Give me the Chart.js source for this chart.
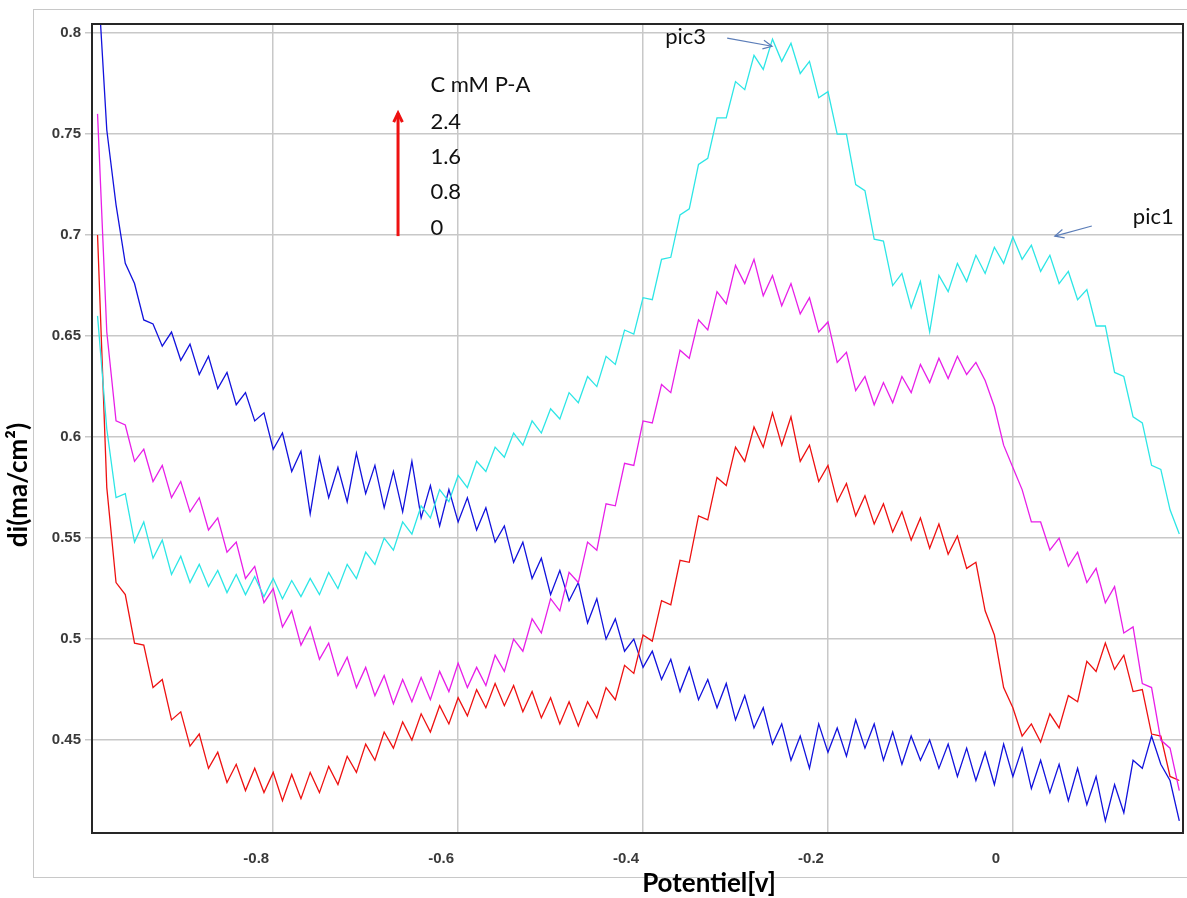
<!DOCTYPE html>
<html>
<head>
<meta charset="utf-8">
<script src="https://cdn.jsdelivr.net/npm/chart.js@4.4.1/dist/chart.umd.min.js"></script>
<style>
  body { margin: 0; background: #fff; }
  canvas { display: block; }
</style>
</head>
<body>
<canvas id="chart" width="1187" height="898"></canvas>
<script>
// potential (V)
const potential = [
  -0.99, -0.98, -0.97, -0.96, -0.95, -0.94, -0.93, -0.92, -0.91, -0.90,
  -0.89, -0.88, -0.87, -0.86, -0.85, -0.84, -0.83, -0.82, -0.81, -0.80,
  -0.79, -0.78, -0.77, -0.76, -0.75, -0.74, -0.73, -0.72, -0.71, -0.70,
  -0.69, -0.68, -0.67, -0.66, -0.65, -0.64, -0.63, -0.62, -0.61, -0.60,
  -0.59, -0.58, -0.57, -0.56, -0.55, -0.54, -0.53, -0.52, -0.51, -0.50,
  -0.49, -0.48, -0.47, -0.46, -0.45, -0.44, -0.43, -0.42, -0.41, -0.40,
  -0.39, -0.38, -0.37, -0.36, -0.35, -0.34, -0.33, -0.32, -0.31, -0.30,
  -0.29, -0.28, -0.27, -0.26, -0.25, -0.24, -0.23, -0.22, -0.21, -0.20,
  -0.19, -0.18, -0.17, -0.16, -0.15, -0.14, -0.13, -0.12, -0.11, -0.10,
  -0.09, -0.08, -0.07, -0.06, -0.05, -0.04, -0.03, -0.02, -0.01, 0.00,
  0.01, 0.02, 0.03, 0.04, 0.05, 0.06, 0.07, 0.08, 0.09, 0.10,
  0.11, 0.12, 0.13, 0.14, 0.15, 0.16, 0.17, 0.18
];

// di (ma/cm2), one array per concentration
const di_0 = [
  0.830, 0.752, 0.715, 0.686, 0.676, 0.658, 0.656, 0.645, 0.652, 0.638,
  0.646, 0.631, 0.640, 0.624, 0.632, 0.616, 0.622, 0.608, 0.612, 0.594,
  0.602, 0.583, 0.593, 0.562, 0.590, 0.570, 0.585, 0.568, 0.592, 0.572,
  0.586, 0.565, 0.583, 0.563, 0.588, 0.560, 0.576, 0.556, 0.574, 0.558,
  0.570, 0.554, 0.565, 0.548, 0.556, 0.538, 0.548, 0.530, 0.540, 0.522,
  0.534, 0.519, 0.528, 0.508, 0.520, 0.500, 0.510, 0.494, 0.500, 0.486,
  0.494, 0.480, 0.490, 0.474, 0.486, 0.470, 0.480, 0.466, 0.478, 0.460,
  0.472, 0.456, 0.466, 0.448, 0.458, 0.440, 0.452, 0.436, 0.458, 0.444,
  0.456, 0.442, 0.460, 0.446, 0.458, 0.440, 0.454, 0.438, 0.452, 0.440,
  0.450, 0.436, 0.448, 0.432, 0.446, 0.430, 0.444, 0.428, 0.448, 0.432,
  0.446, 0.426, 0.440, 0.424, 0.438, 0.420, 0.436, 0.418, 0.432, 0.410,
  0.428, 0.414, 0.440, 0.436, 0.452, 0.438, 0.430, 0.410
];
const di_08 = [
  0.700, 0.575, 0.528, 0.522, 0.498, 0.497, 0.476, 0.480, 0.460, 0.464,
  0.447, 0.453, 0.436, 0.444, 0.429, 0.438, 0.425, 0.436, 0.424, 0.434,
  0.420, 0.433, 0.421, 0.434, 0.424, 0.437, 0.428, 0.442, 0.434, 0.448,
  0.440, 0.454, 0.446, 0.459, 0.450, 0.463, 0.454, 0.467, 0.458, 0.471,
  0.462, 0.475, 0.466, 0.478, 0.467, 0.477, 0.464, 0.474, 0.461, 0.471,
  0.458, 0.469, 0.457, 0.469, 0.461, 0.476, 0.470, 0.487, 0.483, 0.502,
  0.499, 0.519, 0.517, 0.539, 0.538, 0.561, 0.559, 0.580, 0.576, 0.595,
  0.588, 0.605, 0.595, 0.612, 0.596, 0.610, 0.588, 0.596, 0.578, 0.586,
  0.568, 0.577, 0.561, 0.571, 0.557, 0.567, 0.553, 0.563, 0.549, 0.560,
  0.545, 0.557, 0.542, 0.551, 0.535, 0.538, 0.514, 0.502, 0.476, 0.466,
  0.452, 0.458, 0.449, 0.463, 0.456, 0.472, 0.469, 0.489, 0.484, 0.498,
  0.485, 0.492, 0.474, 0.475, 0.453, 0.452, 0.432, 0.430
];
const di_16 = [
  0.760, 0.652, 0.608, 0.606, 0.588, 0.594, 0.578, 0.586, 0.570, 0.578,
  0.563, 0.570, 0.554, 0.560, 0.543, 0.548, 0.530, 0.536, 0.518, 0.525,
  0.506, 0.514, 0.497, 0.506, 0.490, 0.498, 0.482, 0.491, 0.476, 0.486,
  0.472, 0.482, 0.468, 0.480, 0.469, 0.481, 0.470, 0.484, 0.474, 0.488,
  0.476, 0.486, 0.477, 0.492, 0.484, 0.500, 0.494, 0.510, 0.503, 0.520,
  0.514, 0.533, 0.528, 0.548, 0.544, 0.567, 0.566, 0.587, 0.586, 0.608,
  0.607, 0.626, 0.622, 0.643, 0.639, 0.658, 0.653, 0.672, 0.666, 0.685,
  0.676, 0.688, 0.670, 0.680, 0.665, 0.676, 0.661, 0.669, 0.652, 0.657,
  0.637, 0.642, 0.623, 0.630, 0.616, 0.627, 0.617, 0.630, 0.622, 0.636,
  0.627, 0.639, 0.629, 0.640, 0.631, 0.637, 0.628, 0.615, 0.596, 0.585,
  0.574, 0.558, 0.558, 0.544, 0.550, 0.536, 0.543, 0.528, 0.535, 0.518,
  0.526, 0.503, 0.506, 0.478, 0.476, 0.450, 0.446, 0.425
];
const di_24 = [
  0.660, 0.604, 0.570, 0.572, 0.548, 0.558, 0.540, 0.549, 0.532, 0.541,
  0.528, 0.537, 0.526, 0.534, 0.523, 0.532, 0.522, 0.531, 0.521, 0.530,
  0.520, 0.529, 0.521, 0.530, 0.522, 0.533, 0.525, 0.537, 0.530, 0.543,
  0.537, 0.550, 0.544, 0.558, 0.552, 0.566, 0.560, 0.574, 0.568, 0.581,
  0.575, 0.588, 0.583, 0.595, 0.590, 0.602, 0.596, 0.608, 0.602, 0.614,
  0.609, 0.622, 0.617, 0.630, 0.625, 0.640, 0.636, 0.653, 0.651, 0.669,
  0.668, 0.688, 0.689, 0.710, 0.713, 0.735, 0.738, 0.758, 0.758, 0.776,
  0.772, 0.789, 0.782, 0.797, 0.786, 0.795, 0.780, 0.786, 0.768, 0.771,
  0.750, 0.750, 0.725, 0.722, 0.698, 0.697, 0.675, 0.681, 0.664, 0.677,
  0.652, 0.680, 0.672, 0.686, 0.677, 0.690, 0.681, 0.694, 0.686, 0.699,
  0.688, 0.695, 0.682, 0.690, 0.676, 0.682, 0.668, 0.673, 0.655, 0.655,
  0.632, 0.630, 0.610, 0.607, 0.586, 0.584, 0.564, 0.552
];

const concLabels = ["2.4", "1.6", "0.8", "0"];

const lineFont = "'Liberation Sans', Arial, sans-serif";
const noteFont = "Lato, 'Open Sans', sans-serif";

function pts(arr) {
  return potential.map((x, i) => ({ x, y: arr[i] }));
}

function ds(label, arr, color) {
  return {
    label,
    data: pts(arr),
    borderColor: color,
    borderWidth: 1.3,
    pointRadius: 0,
    tension: 0,
    fill: false
  };
}

// arrow helper for the notes
function arrow(ctx, x1, y1, x2, y2, color, width, head) {
  ctx.save();
  ctx.strokeStyle = color;
  ctx.lineWidth = width;
  ctx.beginPath();
  ctx.moveTo(x1, y1);
  ctx.lineTo(x2, y2);
  ctx.stroke();
  const a = Math.atan2(y2 - y1, x2 - x1);
  ctx.beginPath();
  ctx.moveTo(x2 - head * Math.cos(a - 0.45), y2 - head * Math.sin(a - 0.45));
  ctx.lineTo(x2, y2);
  ctx.lineTo(x2 - head * Math.cos(a + 0.45), y2 - head * Math.sin(a + 0.45));
  ctx.stroke();
  ctx.restore();
}

const decor = {
  id: "decor",
  beforeDraw(chart) {
    const ctx = chart.ctx;
    ctx.save();
    ctx.fillStyle = "#fff";
    ctx.fillRect(0, 0, chart.width, chart.height);
    ctx.strokeStyle = "#c8c8c8";
    ctx.lineWidth = 1;
    ctx.strokeRect(33.5, 9.5, 1200, 868);
    ctx.restore();
  },
  afterDraw(chart) {
    const ctx = chart.ctx;
    const a = chart.chartArea;
    const sx = chart.scales.x, sy = chart.scales.y;
    const X = v => sx.getPixelForValue(v), Y = v => sy.getPixelForValue(v);

    ctx.save();
    ctx.strokeStyle = "#262626";
    ctx.lineWidth = 2;
    ctx.strokeRect(a.left, a.top, a.right - a.left, a.bottom - a.top);

    // concentration note
    ctx.fillStyle = "#111";
    ctx.font = "22px " + noteFont;
    ctx.textBaseline = "middle";
    ctx.textAlign = "left";
    ctx.fillText("C mM P-A", X(-0.630), Y(0.7743));
    const rows = [0.7559, 0.7386, 0.7213, 0.7035];
    concLabels.forEach((t, i) => ctx.fillText(t, X(-0.630), Y(rows[i])));
    arrow(ctx, X(-0.665), Y(0.6995), X(-0.665), Y(0.7604), "#ee1111", 3, 10);

    // peak notes
    ctx.fillText("pic3", X(-0.376), Y(0.798));
    arrow(ctx, X(-0.309), Y(0.7975), X(-0.2605), Y(0.7935), "#5b7db8", 1.2, 10);
    ctx.fillText("pic1", X(0.1297), Y(0.7089));
    arrow(ctx, X(0.0854), Y(0.7045), X(0.0454), Y(0.6995), "#5b7db8", 1.2, 10);

    // axis titles
    ctx.fillStyle = "#000";
    ctx.font = "bold 26px " + noteFont;
    ctx.textAlign = "center";
    ctx.fillText("Potentiel[v]", 709, 884);
    ctx.translate(19, 485);
    ctx.rotate(-Math.PI / 2);
    ctx.fillText("di(ma/cm²)", 0, 0);
    ctx.restore();
  }
};

new Chart(document.getElementById("chart"), {
  type: "line",
  data: {
    datasets: [
      ds("2.4", di_24, "#2de6e6"),
      ds("1.6", di_16, "#e81fe8"),
      ds("0.8", di_08, "#ee1111"),
      ds("0", di_0, "#1212dd")
    ]
  },
  options: {
    responsive: false,
    animation: false,
    devicePixelRatio: 1,
    layout: { padding: { left: 0, top: 24, right: 4, bottom: 0 } },
    plugins: { legend: { display: false }, tooltip: { enabled: false } },
    scales: {
      x: {
        type: "linear",
        min: -0.996,
        max: 0.184,
        afterFit: s => { s.height = 65; },
        border: { display: false },
        grid: { color: "#c8c8c8", lineWidth: 1.5, drawTicks: false },
        ticks: {
          stepSize: 0.2,
          includeBounds: false,
          labelOffset: -17,
          padding: 17,
          color: "#3a3a3a",
          font: { family: lineFont, size: 15, weight: "bold" },
          callback: v => String(Math.round(v * 10) / 10)
        }
      },
      y: {
        min: 0.404,
        max: 0.8045,
        afterFit: s => { s.width = 92; },
        border: { display: false },
        grid: { color: "#c8c8c8", lineWidth: 1.5, tickLength: 7 },
        ticks: {
          stepSize: 0.05,
          includeBounds: false,
          padding: 4,
          color: "#3a3a3a",
          font: { family: lineFont, size: 15, weight: "bold" },
          callback: v => String(Math.round(v * 100) / 100)
        }
      }
    }
  },
  plugins: [decor]
});
</script>
</body>
</html>
